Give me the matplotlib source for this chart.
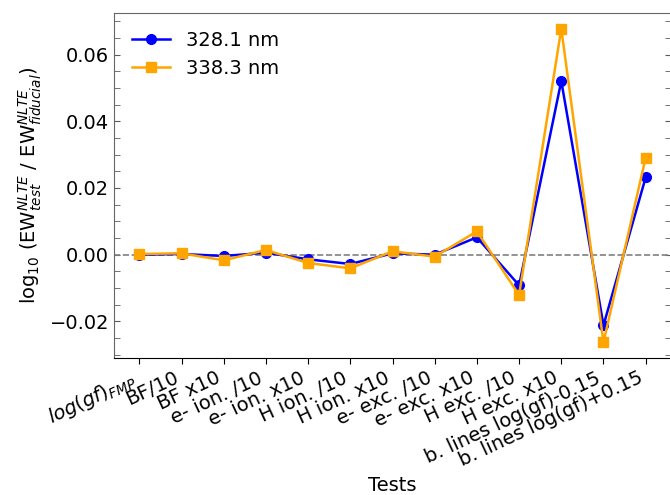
import numpy as np
import matplotlib
matplotlib.use('Agg')
from matplotlib import pyplot as plt
from matplotlib.ticker import MultipleLocator

plt.rcParams['font.size'] = 14

# tests and results
tests = [r'$log(gf)_{FMP}$', 'BF/10', 'BF x10', 'e- ion. /10', 'e- ion. x10',
         'H ion. /10', 'H ion. x10', 'e- exc. /10', 'e- exc. x10', 'H exc. /10',
         'H exc. x10', 'b. lines log(gf)-0.15', 'b. lines log(gf)+0.15']
dew_3281 = [0.0000, 0.0002, -0.0004, 0.0006, -0.0014, -0.0028, 0.0004,
            0.0000, 0.0052, -0.0092, 0.0521, -0.0212, 0.0232]
dew_3383 = [0.0002, 0.0004, -0.0017, 0.0014, -0.0025, -0.0041, 0.0010,
            -0.0006, 0.0070, -0.0121, 0.0678, -0.0263, 0.0291]

fig = plt.figure(figsize=(6.7, 4.95), dpi=100)
ax = fig.add_axes([114 / 670, 137 / 495, 557 / 670, 345 / 495])

x = np.arange(len(tests))
ax.axhline(0, ls='--', color='gray', lw=1.2)
ax.plot(x, dew_3281, '-o', color='blue', lw=1.8, ms=7, label='328.1 nm')
ax.plot(x, dew_3383, '-s', color='orange', lw=1.8, ms=7, label='338.3 nm')

ax.set_xticks(x)
ax.set_xticklabels(tests, rotation=25, ha='right')
ax.yaxis.set_major_locator(MultipleLocator(0.02))
ax.yaxis.set_minor_locator(MultipleLocator(0.005))
ax.tick_params(axis='y', which='both', direction='in', left=True, right=True,
               length=4, color='0.35')
ax.tick_params(axis='x', direction='out', length=4)
for s in ['left', 'top', 'right']:
    ax.spines[s].set_color('0.4')

ax.set_xlabel('Tests')
ax.set_ylabel(r'log$_{10}$ (EW$^{NLTE}_{test}$ / EW$^{NLTE}_{fiducial}$)')
ax.legend(loc='upper left', frameon=False)

plt.savefig('out.png', dpi=100)
